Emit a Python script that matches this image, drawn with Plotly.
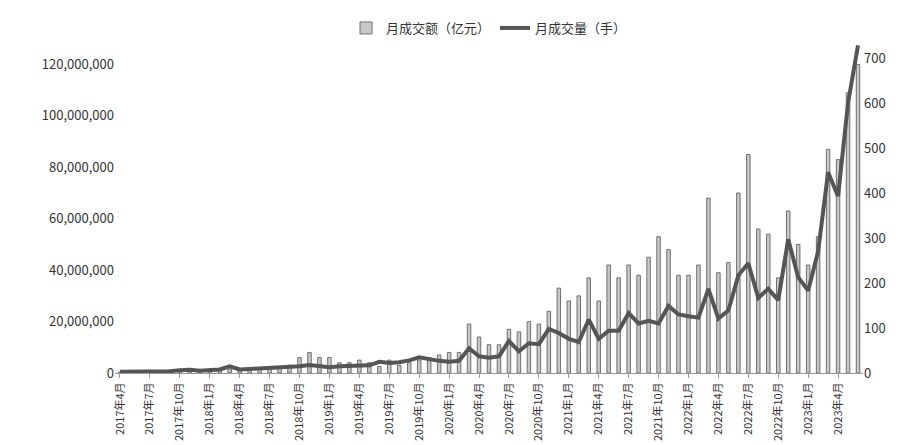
import plotly.graph_objects as go

months = []
for y in range(2017, 2024):
    for m in range(1, 13):
        if (y == 2017 and m < 4) or (y == 2023 and m > 6):
            continue
        months.append(f"{y}年{m}月")

amount = [0.3,0.4,0.5,0.4,0.5,0.6,0.7,0.8,0.6,
          0.9,1.0,1.5,1.2,1.3,1.5,1.8,2.0,3.0,6,8,6,
          6,4,4,5,4,2.5,5,3,4,5,6,7,
          8,8,19,14,11,11,17,16,20,19,24,33,
          28,30,37,28,42,37,42,38,45,53,48,38,
          38,42,68,39,43,70,85,56,54,37,63,50,
          42,53,87,83,109,120]
amount = [v * 1e6 for v in amount]

volume = [3,3,4,5,3,4,6,7,5,
          6,8,15,8,9,10,11,12,13,15,18,15,
          13,15,16,18,17,25,22,24,28,35,30,27,
          25,27,55,37,34,37,71,48,66,64,98,89,
          76,69,119,76,94,94,133,110,116,110,149,130,
          126,123,187,121,139,217,244,167,187,162,297,213,
          183,270,446,393,600,728]

tickvals = months[::3]

fig = go.Figure()
fig.add_trace(go.Bar(x=months, y=amount, name="月成交额（亿元）",
                     marker=dict(color="#c8c8c8", line=dict(color="#707070", width=1)),
                     width=0.35))
fig.add_trace(go.Scatter(x=months, y=volume, name="月成交量（手）", yaxis="y2",
                         mode="lines", line=dict(color="#555555", width=4)))

fig.update_layout(
    width=900, height=445,
    margin=dict(l=107, r=45, t=5, b=80),
    paper_bgcolor="white", plot_bgcolor="white",
    font=dict(family="Noto Sans CJK SC", size=12, color="#333"),
    legend=dict(orientation="h", x=0.5, xanchor="center", y=1.0, yanchor="top",
                font=dict(size=13)),
    bargap=0.3,
    xaxis=dict(tickmode="array", tickvals=tickvals, tickangle=-90,
               showline=True, linecolor="#999", ticks="outside", ticklen=4,
               tickcolor="#999", tickfont=dict(size=11)),
    yaxis=dict(range=[0, 140e6], dtick=20e6, tickformat=",d",
               showgrid=False, zeroline=False, tickfont=dict(size=13)),
    yaxis2=dict(range=[0, 800], dtick=100, overlaying="y", side="right",
                showgrid=False, zeroline=False, tickfont=dict(size=13)),
)
fig.write_html("out.html")
